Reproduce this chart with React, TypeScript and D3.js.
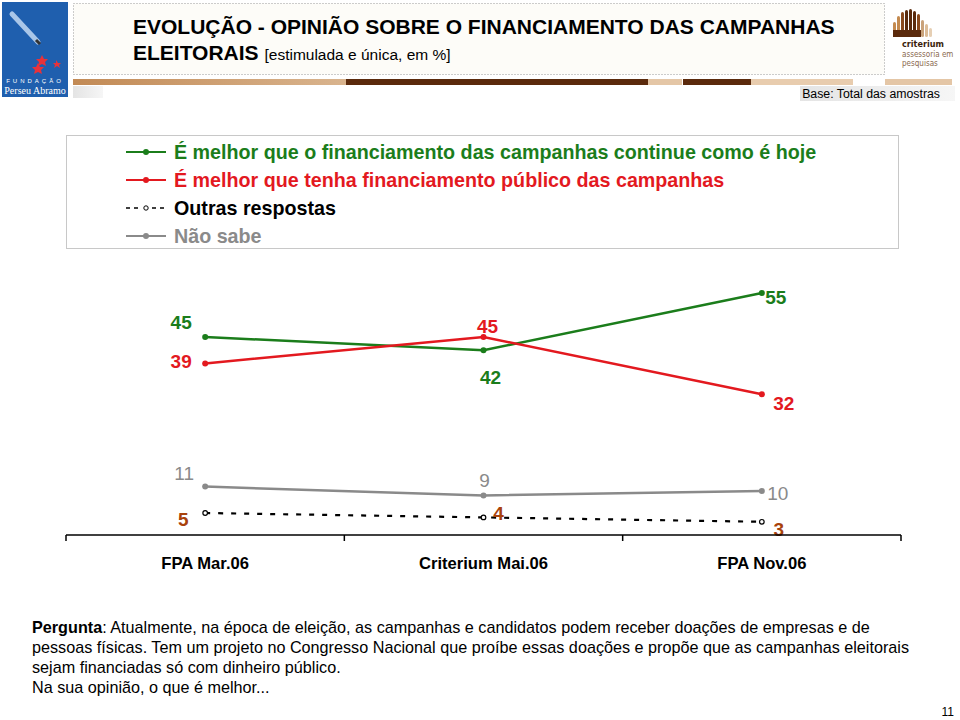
import React from "react";
import * as d3 from "d3";

const categories = ["FPA Mar.06", "Criterium Mai.06", "FPA Nov.06"];
const continueHoje = [45, 42, 55];
const financiamentoPublico = [39, 45, 32];
const naoSabe = [11, 9, 10];
const outras = [5, 4, 3];
const seriesNames = [
  "É melhor que o financiamento das campanhas continue como é hoje",
  "É melhor que tenha financiamento público das campanhas",
  "Outras respostas",
  "Não sabe",
];
const questionLines = [
  "Atualmente, na época de eleição, as campanhas e candidatos podem receber doações de empresas e de",
  "pessoas físicas. Tem um projeto no Congresso Nacional que proíbe essas doações e propõe que as campanhas eleitorais",
  "sejam financiadas só com dinheiro público.",
  "Na sua opinião, o que é melhor...",
];

const GREEN = "#1b7d1b";
const RED = "#e3191f";
const GRAY = "#8a8a8a";
const BROWN = "#a8420c";
const FONT = "'Liberation Sans', Arial, sans-serif";

export default function App() {
  const x = d3.scaleBand<string>().domain(categories).range([66, 901]);
  const y = d3.scaleLinear().domain([0, 60]).range([535, 271]);
  const cx = (c: string) => (x(c) as number) + x.bandwidth() / 2;
  const line = d3
    .line<number>()
    .x((_, i) => cx(categories[i]))
    .y((d) => y(d));

  const greenOff = [[-24, -8], [7, 34], [14, 11]];
  const redOff = [[-24, 5], [4, -4], [22, 16]];
  const grayOff = [[-21, -7], [1, -8], [16, 9]];
  const brownOff = [[-22, 13], [15, 3], [17, 14]];

  const labels = (
    vals: number[],
    offs: number[][],
    color: string,
    weight: string = "bold"
  ) =>
    vals.map((v, i) => (
      <text
        key={i}
        x={cx(categories[i]) + offs[i][0]}
        y={y(v) + offs[i][1]}
        textAnchor="middle"
        fill={color}
        fontSize={19}
        fontWeight={weight}
        fontFamily={FONT}
      >
        {v}
      </text>
    ));

  const dots = (vals: number[], color: string, open = false) =>
    vals.map((v, i) => (
      <circle
        key={i}
        cx={cx(categories[i])}
        cy={y(v)}
        r={open ? 2.3 : 3}
        fill={open ? "#fff" : color}
        stroke={color}
        strokeWidth={open ? 1.2 : 0}
      />
    ));

  const legendRows = [
    { name: seriesNames[0], color: GREEN, text: GREEN, dash: "" },
    { name: seriesNames[1], color: RED, text: RED, dash: "" },
    { name: seriesNames[2], color: "#000", text: "#000", dash: "4,4" },
    { name: seriesNames[3], color: GRAY, text: GRAY, dash: "" },
  ];

  return (
    <svg width={960} height={720} style={{ position: "absolute", left: 0, top: 0 }}>
      <defs>
        <linearGradient id="barGrad" x1="0" x2="1" y1="0" y2="0">
          <stop offset="0" stopColor="#c28a55" />
          <stop offset="1" stopColor="#d9b48e" />
        </linearGradient>
        <linearGradient id="grayGrad" x1="0" x2="1">
          <stop offset="0" stopColor="#e4e4e4" />
          <stop offset="1" stopColor="#f6f6f6" />
        </linearGradient>
      </defs>
      <rect width={960} height={720} fill="#fff" />

      {/* left logo */}
      <rect x={2} y={2} width={66} height={95} fill="#1f5fae" />
      <line x1={12} y1={14} x2={38} y2={42} stroke="#a9c6e8" strokeWidth={5} strokeLinecap="round" />
      <line x1={36} y1={40} x2={40} y2={44} stroke="#333" strokeWidth={3} />
      <path d="M42,55 l2,4 4,0 -3,3 1,4 -4,-2 -4,2 1,-4 -3,-3 4,0z" fill="#e8323a" />
      <path d="M56,60 l2,3 3,0 -2,2 1,3 -3,-2 -3,2 1,-3 -2,-2 3,0z" fill="#e8323a" />
      <path d="M38,63 l2,4 4,0 -3,3 1,4 -4,-2 -4,2 1,-4 -3,-3 4,0z" fill="#e8323a" />
      <text x={35} y={83} textAnchor="middle" fill="#fff" fontSize={6} fontFamily={FONT} letterSpacing={3}>FUNDAÇÃO</text>
      <text x={35} y={94} textAnchor="middle" fill="#fff" fontSize={10} fontFamily="'Liberation Serif', serif">Perseu Abramo</text>

      {/* title box */}
      <rect x={73.5} y={3.5} width={811} height={71} fill="#fdfcf8" stroke="#9a9a9a" strokeDasharray="1,2" />
      <text x={133} y={34} fontSize={21} fontWeight="bold" fontFamily={FONT} fill="#000">
        EVOLUÇÃO - OPINIÃO SOBRE O FINANCIAMENTO DAS CAMPANHAS
      </text>
      <text x={133} y={60} fontFamily={FONT} fill="#000">
        <tspan fontSize={21} fontWeight="bold">ELEITORAIS </tspan>
        <tspan fontSize={15.5}>[estimulada e única, em %]</tspan>
      </text>

      {/* decorative bar */}
      <rect x={73} y={79} width={273} height={6} fill="url(#barGrad)" />
      <rect x={346} y={79} width={302} height={6} fill="#5b2a0c" />
      <rect x={648} y={79} width={34} height={6} fill="#e4c6a6" />
      <rect x={683} y={79} width={68} height={6} fill="#5b2a0c" />
      <rect x={751} y={79} width={102} height={6} fill="#e8ccae" />
      <rect x={885} y={79} width={67} height={6} fill="#e4c6a6" />
      <rect x={73} y={86} width={30} height={12} fill="url(#grayGrad)" />
      <rect x={800} y={86} width={155} height={15} fill="url(#grayGrad)" />
      <text x={940} y={98} textAnchor="end" fontSize={12.3} fontFamily={FONT} fill="#000">
        Base: Total das amostras
      </text>

      {/* right logo */}
      {[
        [893, 22, "#c48a4f"], [897, 16, "#c48a4f"], [901, 12, "#8a4a1e"], [905, 10, "#5b2a0c"],
        [909, 9, "#5b2a0c"], [913, 11, "#5b2a0c"], [917, 14, "#8a4a1e"], [921, 20, "#c9a27a"],
        [925, 24, "#dcbc98"], [929, 28, "#e6cfb4"],
      ].map((b, i) => (
        <rect key={i} x={b[0] as number} y={b[1] as number} width={3} height={37 - (b[1] as number)} fill={b[2] as string} rx={1.5} />
      ))}
      <rect x={893} y={30} width={28} height={7} fill="#5b2a0c" />
      <text x={902} y={47} fontSize={9} fontWeight="bold" fontFamily="'DejaVu Sans Condensed', sans-serif" fill="#3a1e0a">criterium</text>
      <text x={902} y={57} fontSize={8} fontFamily="'DejaVu Sans Condensed', sans-serif" fill="#8a6a50">assessoria em</text>
      <text x={902} y={66} fontSize={8} fontFamily="'DejaVu Sans Condensed', sans-serif" fill="#8a6a50">pesquisas</text>

      {/* legend */}
      <rect x={66.5} y={135.5} width={832} height={113} fill="#fff" stroke="#c8c8c8" />
      {legendRows.map((r, i) => {
        const ly = 152 + i * 28;
        return (
          <g key={i}>
            {r.dash ? (
              <>
                <line x1={126} y1={ly} x2={142} y2={ly} stroke={r.color} strokeWidth={1.6} strokeDasharray={r.dash} />
                <line x1={150} y1={ly} x2={166} y2={ly} stroke={r.color} strokeWidth={1.6} strokeDasharray="4,4" strokeDashoffset={-2} />
                <circle cx={146} cy={ly} r={2.2} fill="#fff" stroke="#000" strokeWidth={1} />
              </>
            ) : (
              <>
                <line x1={126} y1={ly} x2={166} y2={ly} stroke={r.color} strokeWidth={2.2} />
                <circle cx={146} cy={ly} r={3} fill={r.color} />
              </>
            )}
            <text x={174} y={ly + 7} fontSize={19.7} fontWeight="bold" fontFamily={FONT} fill={r.text}>
              {r.name}
            </text>
          </g>
        );
      })}

      {/* series */}
      <path d={line(naoSabe) as string} fill="none" stroke={GRAY} strokeWidth={2.5} />
      <path d={line(outras) as string} fill="none" stroke="#000" strokeWidth={2.2} strokeDasharray="5,8" />
      <path d={line(continueHoje) as string} fill="none" stroke={GREEN} strokeWidth={2.5} />
      <path d={line(financiamentoPublico) as string} fill="none" stroke={RED} strokeWidth={2.5} />
      {dots(naoSabe, GRAY)}
      {dots(outras, "#000", true)}
      {dots(continueHoje, GREEN)}
      {dots(financiamentoPublico, RED)}

      {labels(continueHoje, greenOff, GREEN)}
      {labels(financiamentoPublico, redOff, RED)}
      {labels(naoSabe, grayOff, GRAY, "normal")}
      {labels(outras, brownOff, BROWN)}

      {/* x axis */}
      <line x1={66} y1={535} x2={901} y2={535} stroke="#000" strokeWidth={1.5} />
      {[0, 1, 2, 3].map((i) => {
        const tx = 66 + i * x.step();
        return <line key={i} x1={tx} y1={535} x2={tx} y2={541} stroke="#000" strokeWidth={1.5} />;
      })}
      {categories.map((c) => (
        <text key={c} x={cx(c)} y={569} textAnchor="middle" fontSize={16.6} fontWeight="bold" fontFamily={FONT} fill="#000">
          {c}
        </text>
      ))}

      {/* question */}
      {questionLines.map((l, i) => (
        <text key={i} x={32} y={633 + i * 20} fontSize={16.2} fontFamily={FONT} fill="#000">
          {i === 0 ? (
            <>
              <tspan fontWeight="bold">Pergunta</tspan>
              <tspan>: {l}</tspan>
            </>
          ) : (
            l
          )}
        </text>
      ))}
      <text x={954} y={716} textAnchor="end" fontSize={12} fontFamily={FONT} fill="#000">11</text>
    </svg>
  );
}
